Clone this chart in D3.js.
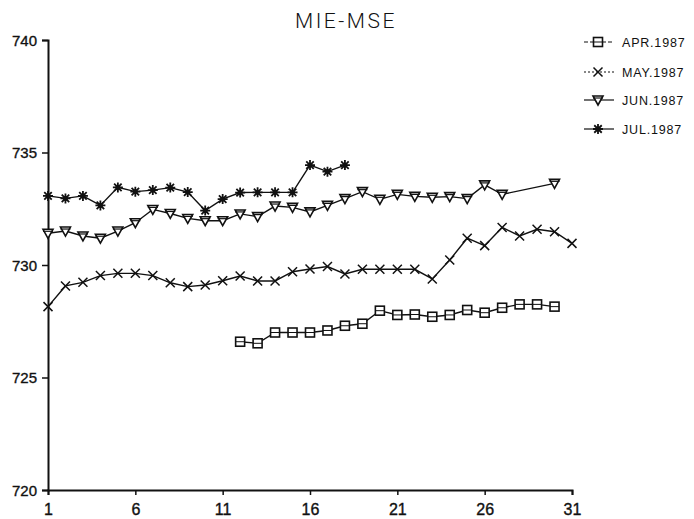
<!DOCTYPE html>
<html>
<head>
<meta charset="utf-8">
<script src="https://cdn.jsdelivr.net/npm/d3@7"></script>
<style>
  html, body { margin: 0; padding: 0; background: #fff; }
  svg { display: block; }
</style>
</head>
<body>
<svg id="chart" width="694" height="519"></svg>
<script>
// Daily MIE-MSE values, one array per month (null = no observation)
const days = d3.range(1, 32);
const xTicks = [1, 6, 11, 16, 21, 26, 31];
const yTicks = [720, 725, 730, 735, 740];

const apr = [null, null, null, null, null, null, null, null, null, null, null,
  726.59, 726.52, 727.0, 727.0, 727.0, 727.09, 727.3, 727.39, 727.97, 727.78,
  727.8, 727.7, 727.78, 728.0, 727.88, 728.1, 728.25, 728.25, 728.15, null];
const may = [728.15, 729.07, 729.23, 729.53, 729.63, 729.63, 729.53, 729.21, 729.04, 729.11,
  729.3, 729.51, 729.29, 729.29, 729.7, 729.82, 729.93, 729.6, 729.81, 729.81,
  729.81, 729.81, 729.38, 730.22, 731.19, 730.86, 731.67, 731.29, 731.59, 731.48, 730.96];
const jun = [731.41, 731.51, 731.29, 731.19, 731.51, 731.88, 732.47, 732.29, 732.07, 731.97,
  731.97, 732.27, 732.15, 732.62, 732.56, 732.36, 732.65, 732.95, 733.26, 732.92,
  733.14, 733.05, 733.01, 733.04, 732.95, 733.56, 733.14, null, null, 733.63, null];
const jul = [733.07, 732.96, 733.07, 732.65, 733.45, 733.26, 733.33, 733.44, 733.24, 732.42,
  732.93, 733.22, 733.23, 733.23, 733.23, 734.44, 734.15, 734.44, null, null,
  null, null, null, null, null, null, null, null, null, null, null];

const seriesNames = ["APR.1987", "MAY.1987", "JUN.1987", "JUL.1987"];
const seriesValues = [apr, may, jun, jul];
const markerKinds = ["square", "cross", "triangle", "star"];

const svg = d3.select("#chart");
const x = d3.scaleLinear().domain([1, 31]).range([48, 572]);
const y = d3.scaleLinear().domain([720, 740]).range([490, 40]);

const ink = "#111";

// Title
svg.append("text")
  .attr("x", 346).attr("y", 28)
  .attr("text-anchor", "middle")
  .attr("font-family", "Roboto, 'Liberation Sans', sans-serif")
  .attr("font-weight", 300)
  .attr("font-size", 21)
  .attr("letter-spacing", 2.5)
  .attr("fill", ink)
  .text("MIE-MSE");

// Axes
const xAxis = d3.axisBottom(x).tickValues(xTicks).tickSize(5).tickPadding(9)
  .tickFormat(d3.format("d"));
const yAxis = d3.axisLeft(y).tickValues(yTicks).tickSize(6).tickPadding(5)
  .tickFormat(d3.format("d"));

const gx = svg.append("g").attr("transform", `translate(0,${y(720)})`).call(xAxis);
const gy = svg.append("g").attr("transform", `translate(${x(1)},0)`).call(yAxis);

[gx, gy].forEach(g => {
  g.select(".domain").attr("stroke", ink).attr("stroke-width", 2);
  g.selectAll(".tick line").attr("stroke", ink).attr("stroke-width", 1.5);
  g.selectAll(".tick text")
    .attr("fill", ink)
    .attr("stroke", ink)
    .attr("stroke-width", 0.35)
    .attr("font-family", "'Liberation Sans', Arial, sans-serif");
});
gx.selectAll(".tick text").attr("font-size", 16);
gy.selectAll(".tick text").attr("font-size", 15).attr("dy", "0.36em");

// Marker shapes
function drawMarker(g, kind, cx, cy) {
  if (kind === "square") {
    g.append("rect").attr("x", cx - 4.5).attr("y", cy - 4.5)
      .attr("width", 9).attr("height", 9)
      .attr("fill", "#fff").attr("stroke", ink).attr("stroke-width", 1.6);
    g.append("line").attr("x1", cx - 4.5).attr("x2", cx + 4.5)
      .attr("y1", cy).attr("y2", cy).attr("stroke", ink).attr("stroke-width", 1);
  } else if (kind === "cross") {
    const s = 4.5;
    g.append("path")
      .attr("d", `M${cx - s},${cy - s}L${cx + s},${cy + s}M${cx - s},${cy + s}L${cx + s},${cy - s}`)
      .attr("stroke", ink).attr("stroke-width", 1.5).attr("fill", "none");
  } else if (kind === "triangle") {
    const s = 5;
    g.append("path")
      .attr("d", `M${cx - s},${cy - s * 0.8}L${cx + s},${cy - s * 0.8}L${cx},${cy + s * 1.0}Z`)
      .attr("fill", "#fff").attr("stroke", ink).attr("stroke-width", 1.6);
    g.append("line").attr("x1", cx - s).attr("x2", cx + s)
      .attr("y1", cy - s * 0.4).attr("y2", cy - s * 0.4)
      .attr("stroke", ink).attr("stroke-width", 1.2);
  } else if (kind === "star") {
    const s = 5;
    g.append("path")
      .attr("d", `M${cx - s},${cy}L${cx + s},${cy}M${cx},${cy - s}L${cx},${cy + s}` +
        `M${cx - s * 0.75},${cy - s * 0.75}L${cx + s * 0.75},${cy + s * 0.75}` +
        `M${cx - s * 0.75},${cy + s * 0.75}L${cx + s * 0.75},${cy - s * 0.75}`)
      .attr("stroke", ink).attr("stroke-width", 1.8).attr("fill", "none");
    g.append("circle").attr("cx", cx).attr("cy", cy).attr("r", 2.4).attr("fill", ink);
  }
}

// Lines connect consecutive observations, skipping over missing days
const line = d3.line().x(d => x(d.day)).y(d => y(d.value));

seriesValues.forEach((vals, i) => {
  const pts = days.map((d, j) => ({ day: d, value: vals[j] }))
    .filter(p => p.value !== null);
  const g = svg.append("g");
  g.append("path").datum(pts)
    .attr("d", line)
    .attr("fill", "none")
    .attr("stroke", ink)
    .attr("stroke-width", 1.4);
  pts.forEach(p => drawMarker(g, markerKinds[i], x(p.day), y(p.value)));
});

// Legend
const legendRows = [42, 72, 100, 129];
const legendDash = ["4,2", "2,2", null, null];
seriesNames.forEach((name, i) => {
  const g = svg.append("g");
  const ly = legendRows[i];
  g.append("line").attr("x1", 584).attr("x2", 614).attr("y1", ly).attr("y2", ly)
    .attr("stroke", ink).attr("stroke-width", 1.2)
    .attr("stroke-dasharray", legendDash[i]);
  drawMarker(g, markerKinds[i], 598, ly);
  g.append("text")
    .attr("x", 622).attr("y", ly + 5)
    .attr("font-family", "'Liberation Sans', Arial, sans-serif")
    .attr("font-size", 12.5)
    .attr("letter-spacing", 0.8)
    .attr("fill", ink)
    .text(name);
});
</script>
</body>
</html>
